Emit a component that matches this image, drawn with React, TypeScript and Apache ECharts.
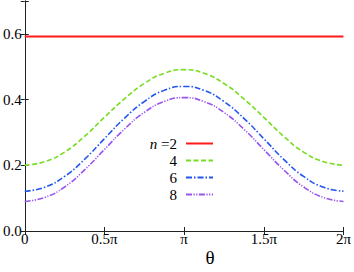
import React, { useEffect, useRef } from "react";
import * as echarts from "echarts";

// theta in units of pi
const theta = [0, 0.125, 0.25, 0.375, 0.5, 0.625, 0.75, 0.875, 1, 1.125, 1.25, 1.375, 1.5, 1.625, 1.75, 1.875, 2];
const n2 = [0.592, 0.592, 0.592, 0.592, 0.592, 0.592, 0.592, 0.592, 0.592, 0.592, 0.592, 0.592, 0.592, 0.592, 0.592, 0.592, 0.592];
const n4 = [0.200, 0.211, 0.240, 0.288, 0.346, 0.402, 0.449, 0.480, 0.491, 0.480, 0.449, 0.402, 0.346, 0.288, 0.240, 0.211, 0.200];
const n6 = [0.121, 0.133, 0.166, 0.218, 0.281, 0.343, 0.394, 0.428, 0.440, 0.428, 0.394, 0.343, 0.281, 0.218, 0.166, 0.133, 0.121];
const n8 = [0.090, 0.102, 0.134, 0.186, 0.248, 0.310, 0.361, 0.394, 0.406, 0.394, 0.361, 0.310, 0.248, 0.186, 0.134, 0.102, 0.090];
const seriesNames = ["n =2", "4", "6", "8"];
const xTickLabels: Record<string, string> = { "0": "0", "0.5": "0.5π", "1": "π", "1.5": "1.5π", "2": "2π" };

const FONT = "Liberation Serif";

const mkLine = () => ({ show: true, lineStyle: { color: "#222", width: 1 } });
const mkTick = () => ({ show: true, inside: true, length: 4, lineStyle: { color: "#222" } });

const css = `body{margin:0} .chart-root svg text{font-family:"Liberation Serif","Times New Roman",serif !important;}`;

export default function App() {
  const ref = useRef<HTMLDivElement>(null);
  useEffect(() => {
    if (!ref.current) return;
    const chart = echarts.init(ref.current, null, { renderer: "svg" });
    const mk = (vals: number[]) => theta.map((t, i) => [t, vals[i]]);
    chart.setOption({
      animation: false,
      grid: { left: 23, right: 7, top: 1, bottom: 41 },
      xAxis: [
        {
          type: "value", min: 0, max: 2, interval: 0.5, position: "bottom",
          axisLine: mkLine(), axisTick: mkTick(), splitLine: { show: false },
          axisLabel: {
            fontFamily: FONT, fontSize: 15, color: "#000", margin: 0,
            formatter: (v: number) => xTickLabels[String(v)] ?? "",
          },
        },
        {
          type: "value", min: 0, max: 2, interval: 0.5, position: "top",
          axisLine: mkLine(), axisTick: mkTick(), splitLine: { show: false }, axisLabel: { show: false },
        },
      ],
      yAxis: [
        {
          type: "value", min: 0, max: 0.7, interval: 0.2, position: "left",
          axisLine: mkLine(), axisTick: mkTick(), splitLine: { show: false },
          axisLabel: {
            fontFamily: FONT, fontSize: 15, color: "#000", margin: 3,
            formatter: (v: number) => (v > 0.65 ? "" : v.toFixed(1)),
          },
        },
        {
          type: "value", min: 0, max: 0.7, interval: 0.2, position: "right",
          axisLine: mkLine(), axisTick: mkTick(), splitLine: { show: false }, axisLabel: { show: false },
        },
      ],
      legend: {
        orient: "vertical", align: "right", right: 135, top: 131,
        itemWidth: 27, itemHeight: 10, itemGap: 2,
        itemStyle: { opacity: 0 },
        textStyle: {
          fontFamily: FONT, fontSize: 15, color: "#000", lineHeight: 15, padding: [0, 4, 0, 0],
          rich: { i: { fontFamily: FONT, fontSize: 15, fontStyle: "italic", color: "#000" } },
        },
        formatter: (name: string) => (name === "n =2" ? "{i|n} =2" : name),
        data: seriesNames,
      },
      graphic: [
        {
          type: "text", x: 210, y: 257,
          style: { text: "θ", fontFamily: FONT, fontSize: 19, fill: "#000", align: "center", verticalAlign: "middle" },
        },
      ],
      series: [
        { name: seriesNames[0], type: "line", data: mk(n2), symbol: "none", smooth: true, color: "#ff1a1a", lineStyle: { width: 2, color: "#ff1a1a", type: "solid" } },
        { name: seriesNames[1], type: "line", data: mk(n4), symbol: "none", smooth: true, color: "#77dd22", lineStyle: { width: 1.6, color: "#77dd22", type: [5, 2.5] } },
        { name: seriesNames[2], type: "line", data: mk(n6), symbol: "none", smooth: true, color: "#2255ee", lineStyle: { width: 1.6, color: "#2255ee", type: [6, 2, 1.5, 2] } },
        { name: seriesNames[3], type: "line", data: mk(n8), symbol: "none", smooth: true, color: "#9955ee", lineStyle: { width: 1.6, color: "#9955ee", type: [6, 1.5, 1.2, 1.5, 1.2, 1.5] } },
      ],
    });
    return () => chart.dispose();
  }, []);
  return (
    <div className="chart-root">
      <style>{css}</style>
      <div ref={ref} style={{ width: 354, height: 272 }} />
    </div>
  );
}
